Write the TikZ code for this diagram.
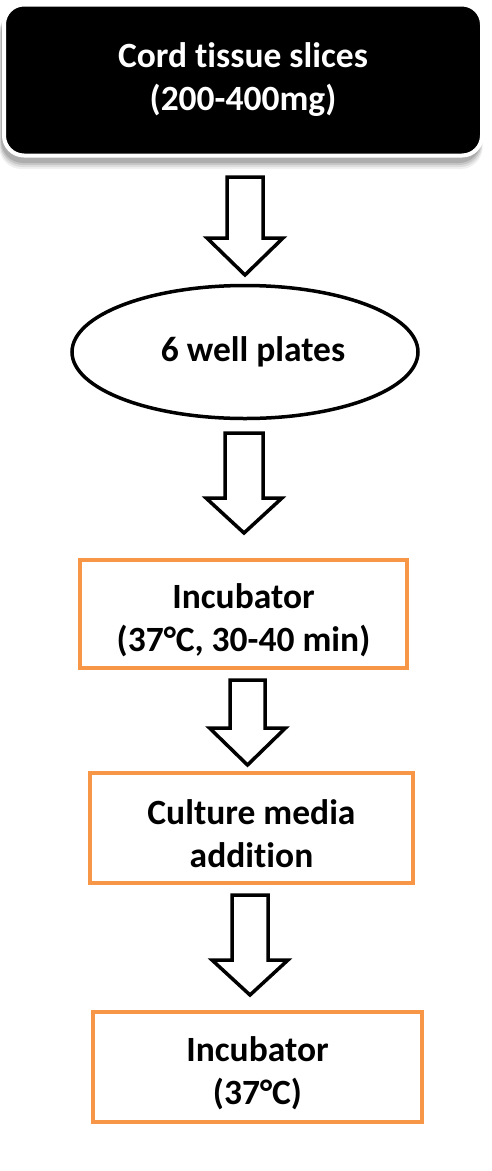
\documentclass[tikz,border=0pt]{standalone}
\usepackage{fontspec}
\setmainfont{Carlito}[Ligatures=NoCommon]
\usetikzlibrary{shapes.geometric}
\definecolor{boxorange}{HTML}{F79646}
\tikzset{
  x=1pt, y=1pt,
  txt/.style={align=center, font=\bfseries\fontsize{35.5}{43}\selectfont, inner sep=0pt},
  stepbox/.style={txt, draw=boxorange, line width=3.5pt, fill=white},
  topbox/.style={txt, text=white, fill=black, draw=white, line width=4pt, rounded corners=20pt},
  platenode/.style={txt, ellipse, draw=black, line width=3.5pt, fill=white},
  blockarrow/.style={draw=black, line width=3.5pt, fill=white, line join=miter},
  shadowfill/.style={fill=black, rounded corners=22pt},
}
\newcommand{\hollowarrow}[5]{% cx, top, head, tip, half shaft
  \draw[blockarrow] (#1-#5,-#2) -- (#1+#5,-#2) -- (#1+#5,-#3) -- (#1+38,-#3)
    -- (#1,-#4) -- (#1-38,-#3) -- (#1-#5,-#3) -- cycle;}
\begin{document}
\begin{tikzpicture}
\useasboundingbox[fill=white] (0,0) rectangle (491,-1171);
% soft shadow under the top box
\foreach \d/\o in {9/0.06,7/0.08,5/0.10,3/0.12}{
  \fill[shadowfill, opacity=\o] (2-\d*0.3,-10) rectangle (480+\d*0.3,-160-\d);
}
\node[topbox, minimum width=478pt, minimum height=151pt] (cord) at (243,-80)
  {Cord tissue slices\\(200-400mg)};
\hollowarrow{245}{177}{238}{275}{18}
\node[platenode, minimum width=346pt, minimum height=133pt] (plates) at (245,-352)
  {\hspace*{16pt}6 well plates};
\hollowarrow{244}{433}{498}{533}{19}
\node[stepbox, minimum width=327pt, minimum height=108pt] (inc1) at (243.5,-614) {};
\node[txt] at (243.5,-620) {Incubator\\(37°C, 30-40 min)};
\hollowarrow{247.5}{680}{728}{765}{17.5}
\node[stepbox, minimum width=323pt, minimum height=110pt] (media) at (251.5,-828) {};
\node[txt] at (251.5,-834) {Culture media\\addition};
\hollowarrow{250}{895}{960}{995}{18}
\node[stepbox, minimum width=329pt, minimum height=110pt] (inc2) at (257.5,-1067) {};
\node[txt] at (257.5,-1073) {Incubator\\(37°C)};
\end{tikzpicture}
\end{document}
